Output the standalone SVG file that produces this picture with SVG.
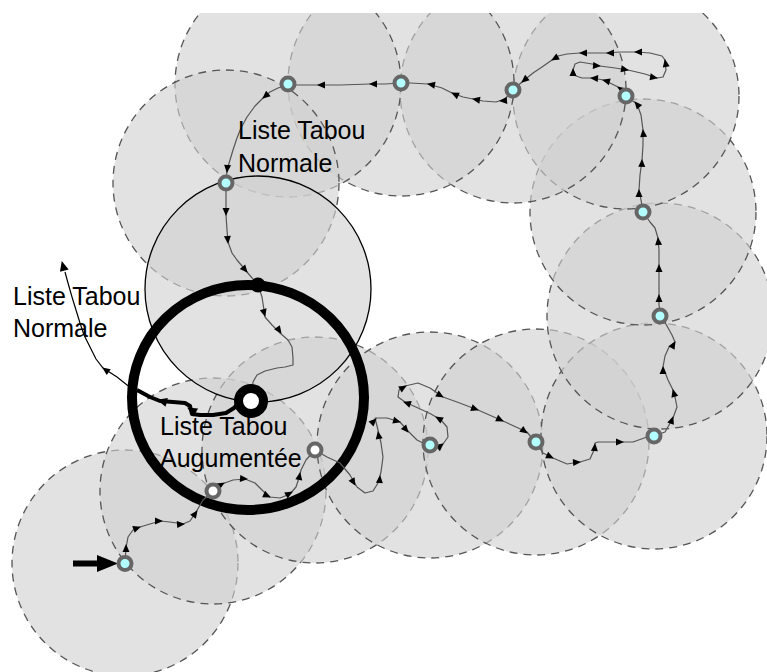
<svg xmlns="http://www.w3.org/2000/svg" xmlns:xlink="http://www.w3.org/1999/xlink" width="767" height="672" viewBox="0 0 767 672">
<style>
.z{fill:#d0d0d0;fill-opacity:0.62;stroke:#555;stroke-width:1.3;stroke-dasharray:8 6}
.c{fill:none;stroke:#555;stroke-width:1.2;stroke-linejoin:round}
.n{stroke:#666;stroke-width:4;fill:#b3ffff}
.w{stroke:#666;stroke-width:4;fill:#fff}
.t{font-family:"Liberation Sans",Arial,sans-serif;font-size:25px;fill:#000}
</style>
<defs>
<clipPath id="clip"><rect x="0" y="13" width="767" height="659"/></clipPath>
<path id="ah" d="M1,0 L-7,-3.5 L-7,3.5 Z" fill="#000"/>
<path id="ahb" d="M1,0 L-9,-4.5 L-9,4.5 Z" fill="#000"/>
</defs>
<rect width="767" height="672" fill="#fff"/>
<g id="neighbourhoods" clip-path="url(#clip)">
<circle class="z" cx="125" cy="563" r="113"/>
<circle class="z" cx="213" cy="491" r="113"/>
<circle class="z" cx="315" cy="450" r="113"/>
<circle class="z" cx="430" cy="445" r="113"/>
<circle class="z" cx="536" cy="442" r="113"/>
<circle class="z" cx="654" cy="436" r="113"/>
<circle class="z" cx="660" cy="316" r="113"/>
<circle class="z" cx="643" cy="212" r="113"/>
<circle class="z" cx="626" cy="96" r="113"/>
<circle class="z" cx="513" cy="90" r="113"/>
<circle class="z" cx="401" cy="83" r="113"/>
<circle class="z" cx="288" cy="84" r="113"/>
<circle class="z" cx="226" cy="183" r="113"/>
<circle cx="258" cy="289" r="113" fill="#d0d0d0" fill-opacity="0.62" stroke="#000" stroke-width="1.3"/>
</g>
<g id="tabu-augmented-circle">
<ellipse cx="248" cy="397.5" rx="116" ry="112.5" fill="none" stroke="#000" stroke-width="10"/>
</g>
<g id="connectors">
<path class="c" d="M125,563 L126,548 L128,537 L133,530 L140,527 L150,524 L160,521 L170,522 L183,524 L190,521 L196,512 L203,500 L213,491"/>
<use href="#ah" transform="translate(126 545) rotate(-90)"/>
<use href="#ah" transform="translate(140 527) rotate(-20)"/>
<use href="#ah" transform="translate(162 521) rotate(0)"/>
<use href="#ah" transform="translate(184 524) rotate(-5)"/>
<use href="#ah" transform="translate(197 511) rotate(-55)"/>
<path class="c" d="M213,491 L222,484 L233,480 L245,479 L255,483 L263,491 L270,497 L280,498 L290,494 L296,487 L299,478 L301,470 L306,460 L315,450"/>
<use href="#ah" transform="translate(224 483) rotate(-30)"/>
<use href="#ah" transform="translate(247 479) rotate(5)"/>
<use href="#ah" transform="translate(270 497) rotate(25)"/>
<use href="#ah" transform="translate(292 492) rotate(-30)"/>
<use href="#ah" transform="translate(300 473) rotate(-80)"/>
<path class="c" d="M315,450 L327,457 L340,463 L350,475 L357,487 L365,493 L373,491 L378,483 L381,472 L383,457 L381,443 L378,430 L375,418 L387,418 L400,422 L407,430 L417,440 L429,446"/>
<use href="#ah" transform="translate(355 485) rotate(60)"/>
<use href="#ah" transform="translate(380 476) rotate(-85)"/>
<use href="#ah" transform="translate(378 432) rotate(-100)"/>
<use href="#ah" transform="translate(376 419) rotate(-45)"/>
<use href="#ah" transform="translate(400 422) rotate(15)"/>
<use href="#ah" transform="translate(408 432) rotate(50)"/>
<path class="c" d="M429,446 L443,444 L448,437 L447,427 L441,420 L431,414 L418,408 L405,402 L398,397 L399,390 L405,386 L418,383 L430,388 L443,397 L457,402 L478,410 L503,421 L527,432 L536,443"/>
<use href="#ah" transform="translate(443 444) rotate(-40)"/>
<use href="#ah" transform="translate(436 417) rotate(-150)"/>
<use href="#ah" transform="translate(404 402) rotate(-160)"/>
<use href="#ah" transform="translate(406 386) rotate(-30)"/>
<use href="#ah" transform="translate(443 397) rotate(30)"/>
<use href="#ah" transform="translate(478 410) rotate(20)"/>
<use href="#ah" transform="translate(503 421) rotate(25)"/>
<use href="#ah" transform="translate(527 433) rotate(35)"/>
<path class="c" d="M536,443 L543,453 L553,458 L567,464 L580,462 L590,459 L594,450 L595,443 L598,442 L610,442 L623,442 L633,442 L647,437 L654,436"/>
<use href="#ah" transform="translate(553 458) rotate(25)"/>
<use href="#ah" transform="translate(580 462) rotate(-5)"/>
<use href="#ah" transform="translate(595 444) rotate(-85)"/>
<use href="#ah" transform="translate(623 442) rotate(0)"/>
<path class="c" d="M654,436 L665,432 L673,418 L677,407 L675,397 L673,390 L668,380 L663,367 L665,356 L669,347 L675,342 L672,335 L667,326 L661,316"/>
<use href="#ah" transform="translate(673 417) rotate(-70)"/>
<use href="#ah" transform="translate(673 390) rotate(-105)"/>
<use href="#ah" transform="translate(663 367) rotate(-90)"/>
<use href="#ah" transform="translate(675 342) rotate(-60)"/>
<path class="c" d="M661,316 L659,305 L659,280 L659,250 L658,238 L655,228 L650,222 L643,212"/>
<use href="#ah" transform="translate(659 295) rotate(-90)"/>
<use href="#ah" transform="translate(659 265) rotate(-90)"/>
<use href="#ah" transform="translate(658 238) rotate(-95)"/>
<path class="c" d="M643,212 L641,200 L639,190 L640,175 L642,160 L643,145 L643,130 L641,115 L637,104 L626,96"/>
<use href="#ah" transform="translate(639 190) rotate(-90)"/>
<use href="#ah" transform="translate(642 160) rotate(-88)"/>
<use href="#ah" transform="translate(643 130) rotate(-95)"/>
<use href="#ah" transform="translate(635 102) rotate(-130)"/>
<path class="c" d="M626,96 L618,87 L610,83 L603,80 L593,78 L582,78 L576,76 L573,70 L575,64 L580,62 L592,64 L600,66 L615,68 L628,70 L645,74 L657,78 L663,77 L666,70 L665,60 L662,56 L650,53 L635,52 L620,52 L607,53 L593,53 L580,53 L567,54 L558,56 L552,60 L542,67 L533,73 L522,82 L513,90"/>
<use href="#ah" transform="translate(618 87) rotate(-145)"/>
<use href="#ah" transform="translate(603 80) rotate(-165)"/>
<use href="#ah" transform="translate(591 78) rotate(-175)"/>
<use href="#ah" transform="translate(573 69) rotate(-90)"/>
<use href="#ah" transform="translate(600 66) rotate(5)"/>
<use href="#ah" transform="translate(628 70) rotate(10)"/>
<use href="#ah" transform="translate(657 78) rotate(10)"/>
<use href="#ah" transform="translate(665 60) rotate(-100)"/>
<use href="#ah" transform="translate(635 52) rotate(180)"/>
<use href="#ah" transform="translate(607 53) rotate(180)"/>
<use href="#ah" transform="translate(580 53) rotate(180)"/>
<use href="#ah" transform="translate(552 60) rotate(150)"/>
<use href="#ah" transform="translate(522 82) rotate(140)"/>
<path class="c" d="M513,90 L505,99 L496,102 L483,101 L473,99 L463,97 L452,93 L442,88 L428,84 L410,83 L401,83"/>
<use href="#ah" transform="translate(500 101) rotate(175)"/>
<use href="#ah" transform="translate(473 99) rotate(-170)"/>
<use href="#ah" transform="translate(452 93) rotate(-155)"/>
<use href="#ah" transform="translate(428 84) rotate(-170)"/>
<path class="c" d="M401,83 L385,84 L370,84 L340,85 L318,85 L288,85"/>
<use href="#ah" transform="translate(370 84) rotate(180)"/>
<use href="#ah" transform="translate(318 85) rotate(180)"/>
<path class="c" d="M288,85 L278,88 L270,92 L263,98 L255,106 L247,117 L241,128 L237,138 L233,150 L230,160 L227,170 L226,184"/>
<use href="#ah" transform="translate(263 98) rotate(140)"/>
<use href="#ah" transform="translate(227 172) rotate(95)"/>
<path class="c" d="M226,184 L226,200 L226,215 L227,230 L228,242 L232,253 L237,260 L247,272 L258,285"/>
<use href="#ah" transform="translate(226 215) rotate(90)"/>
<use href="#ah" transform="translate(228 243) rotate(85)"/>
<use href="#ah" transform="translate(247 272) rotate(50)"/>
<path class="c" d="M258,285 L262,297 L264,310 L265,317 L272,325 L280,333 L288,340 L292,347 L293,358 L293,365 L285,367 L277,368 L265,371 L257,375 L253,382 L252,395"/>
<use href="#ah" transform="translate(265 316) rotate(75)"/>
<use href="#ah" transform="translate(281 333) rotate(55)"/>
<path d="M240,401 L234,408 L226,413 L213,415 L200,415 L192,414 L190,406 L185,403 L173,402 L160,401 L150,397 L137,390" fill="none" stroke="#000" stroke-width="4" stroke-linejoin="round"/>
<use href="#ahb" transform="translate(158 400) rotate(195)"/>
<use href="#ahb" transform="translate(188 408) rotate(210)"/>
<path d="M137,390 L127,385 L117,377 L103,368 L96,359 L90,347 L84,335 L80,323 L76,310 L72,297 L68,283 L65,272" fill="none" stroke="#000" stroke-width="1.2"/>
<use href="#ah" transform="translate(103 368) rotate(-145)"/>
<use href="#ahb" transform="translate(62 262) rotate(-105)"/>
<path d="M73,560.5 L97,560.5 L97,555 L118,563.5 L97,572 L97,566.5 L73,566.5 Z" fill="#000"/>
</g>
<g id="n1"><circle class="n" cx="125" cy="563.5" r="6.5"/></g>
<g id="n2"><circle class="w" cx="213" cy="491" r="6.5"/></g>
<g id="n3"><circle class="w" cx="315" cy="450" r="6.5"/></g>
<g id="n4"><circle class="n" cx="430" cy="445" r="6.5"/></g>
<g id="n5"><circle class="n" cx="536" cy="442" r="6.5"/></g>
<g id="n6"><circle class="n" cx="654" cy="436" r="6.5"/></g>
<g id="n7"><circle class="n" cx="660" cy="316" r="6.5"/></g>
<g id="n8"><circle class="n" cx="643" cy="212" r="6.5"/></g>
<g id="n9"><circle class="n" cx="626" cy="96" r="6.5"/></g>
<g id="n10"><circle class="n" cx="513" cy="90" r="6.5"/></g>
<g id="n11"><circle class="n" cx="401" cy="83" r="6.5"/></g>
<g id="n12"><circle class="n" cx="288" cy="84" r="6.5"/></g>
<g id="n13"><circle class="n" cx="226" cy="183" r="6.5"/></g>
<g id="dot"><circle cx="258" cy="285" r="7.5" fill="#000"/></g>
<g id="current"><circle cx="251" cy="401" r="12.5" fill="#fff" stroke="#000" stroke-width="9"/></g>
<g id="labels">
<text class="t" x="238" y="139">Liste Tabou</text>
<text class="t" x="238" y="172">Normale</text>
<text class="t" x="13" y="305">Liste Tabou</text>
<text class="t" x="13" y="337">Normale</text>
<text class="t" x="160" y="435">Liste Tabou</text>
<text class="t" x="160" y="467">Augumentée</text>
</g>
</svg>
